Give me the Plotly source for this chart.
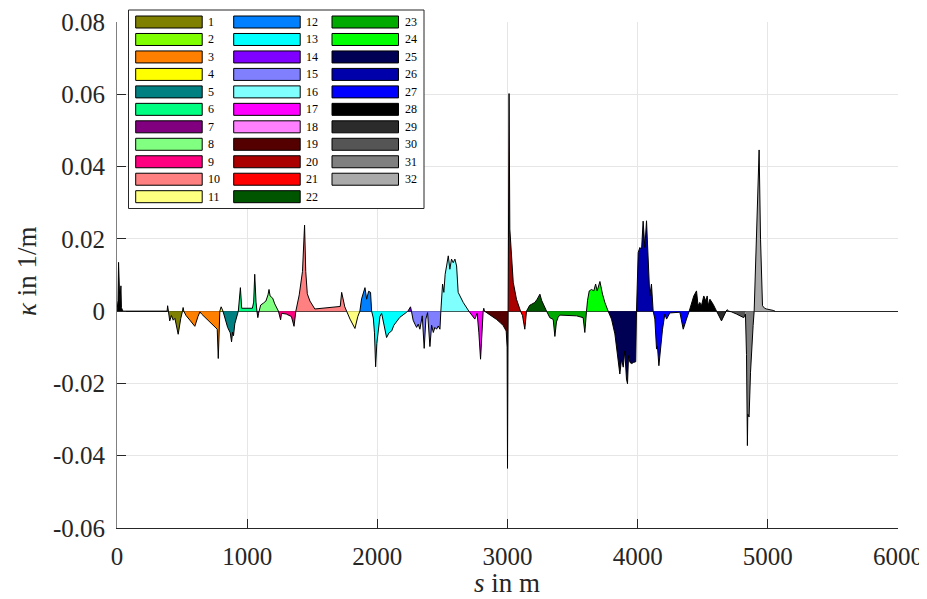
import plotly.graph_objects as go

# ---------------- data ----------------
s_m = [
    0, 8, 12, 16, 22, 30, 34, 45, 385,
    389, 395, 405, 418, 432, 445, 470, 490, 503,
    508, 513,
    530, 560, 598, 622, 637, 650, 700, 753, 770, 778, 790,
    800, 814,
    830, 850, 870, 880, 888, 895, 905, 918, 932,
    940, 948, 958, 1040, 1050, 1058, 1068, 1075,
    1082, 1088, 1092,
    1104, 1124, 1144, 1160, 1168, 1176, 1196, 1212, 1232, 1240,
    1250, 1257, 1264, 1300, 1340, 1360, 1374,
    1400, 1425, 1441, 1450, 1462, 1482, 1520, 1715, 1726, 1750, 1764,
    1790, 1828, 1850, 1866,
    1879, 1905, 1918, 1933, 1948, 1956,
    1969, 1978, 1987, 1996, 2007, 2020, 2033, 2045, 2071, 2090, 2110, 2127, 2143, 2173, 2225, 2235,
    2248, 2255, 2262,
    2275, 2289, 2302, 2314, 2327, 2345, 2360, 2373, 2386, 2404, 2417, 2430, 2442, 2455, 2468, 2481, 2488,
    2501, 2511, 2521, 2532, 2545, 2557, 2570, 2583, 2596, 2609, 2621, 2660, 2703,
    2720, 2732, 2749, 2760, 2767, 2780, 2793, 2813,
    2818, 2823,
    2840, 2865, 2890, 2916, 2945, 2967, 2990, 2997, 3000, 3005,
    3012, 3018, 3031, 3044, 3069, 3090, 3100,
    3115, 3133, 3146,
    3159, 3170, 3185, 3210, 3228, 3249, 3262, 3274, 3300,
    3325, 3351, 3364, 3376, 3389, 3402, 3530, 3581, 3594, 3607,
    3615, 3628, 3646, 3663, 3677, 3689, 3710, 3730, 3748, 3773,
    3799, 3825, 3850, 3863, 3876, 3889, 3901, 3914, 3922, 3930, 3941, 3955, 3967, 3985, 3991,
    3998, 4004, 4017, 4030, 4042, 4055, 4068, 4081, 4093, 4106, 4114, 4119,
    4132, 4145, 4152, 4163, 4176, 4191, 4209, 4222, 4234, 4247, 4324, 4350, 4375, 4396,
    4413, 4431, 4452, 4464, 4477, 4490, 4508, 4524, 4534, 4542, 4555, 4580, 4606,
    4623, 4644, 4669, 4680,
    4687, 4700, 4721, 4759, 4785, 4815, 4828,
    4836, 4843, 4846, 4856, 4867, 4887, 4895,
    4900, 4913, 4925, 4933, 4944, 4951, 4959, 4975, 4990, 5041, 5055,
]
kappa = [
    0, 0.003, 0.0135, 0.003, 0.002, 0.007, 0.001, 0, 0,
    0.0015, 0, -0.0027, -0.0012, -0.0025, -0.002, -0.0064, -0.002, 0,
    0.001, 0,
    -0.0012, -0.0025, -0.0042, -0.0015, -0.0002, -0.0008, -0.0025, -0.0044, -0.005, -0.0131, 0,
    0.0012, 0,
    -0.0022, -0.0045, -0.006, -0.0085, -0.0058, -0.0068, -0.0035, -0.002, 0,
    0.003, 0.0065, 0.0008, 0.0008, 0.0025, 0.0102, 0.0025, 0,
    -0.0018, -0.0006, 0,
    0.0017, 0.0022, 0.0028, 0.0045, 0.006, 0.0042, 0.0036, 0.002, 0.0005, 0,
    -0.0012, -0.0024, -0.0006, -0.0008, -0.0015, -0.0042, 0,
    0.0045, 0.011, 0.0238, 0.011, 0.0048, 0.0028, 0.0006, 0.0013, 0.0052, 0.0012, 0,
    -0.0022, -0.0048, -0.0015, 0,
    0.0034, 0.0065, 0.0033, 0.0055, 0.0052, 0,
    -0.0019, -0.006, -0.0154, -0.009, -0.005, -0.0015, -0.0006, -0.0025, -0.0073, -0.006, -0.0055, -0.0039, -0.003, -0.0017, -0.0003, 0,
    0.001, 0.0012, 0,
    -0.0025, -0.0036, -0.0045, -0.0036, -0.005, -0.0013, -0.0103, -0.0022, -0.0004, -0.0098, -0.0039, -0.0059, -0.0045, -0.005, -0.0041, -0.005, 0,
    0.0075, 0.0052, 0.0102, 0.0125, 0.0153, 0.0116, 0.0144, 0.0134, 0.0144, 0.0125, 0.0052, 0.0024, 0,
    -0.0008, -0.0015, -0.0022, -0.0012, -0.0006, -0.006, -0.0133, 0,
    0.0008, 0,
    -0.0004, -0.0009, -0.0015, -0.0023, -0.0032, -0.004, -0.0055, -0.01, -0.0435, 0,
    0.0602, 0.0227, 0.0134, 0.008, 0.0033, 0.0006, 0,
    -0.0012, -0.005, 0,
    0.001, 0.0016, 0.0019, 0.0024, 0.0033, 0.0047, 0.003, 0.0019, 0,
    -0.0018, -0.0023, -0.007, -0.003, -0.0017, -0.0011, -0.0013, -0.0018, -0.0059, 0,
    0.003, 0.0056, 0.006, 0.0056, 0.0075, 0.0056, 0.0082, 0.0047, 0.0024, 0,
    -0.0022, -0.0063, -0.0133, -0.0174, -0.0133, -0.0155, -0.011, -0.0188, -0.0201, -0.0123, -0.0142, -0.0145, -0.0142, -0.014, 0,
    0.012, 0.0162, 0.0176, 0.0171, 0.0249, 0.0176, 0.025, 0.0116, 0.0042, 0.0075, 0.0033, 0,
    -0.0022, -0.0105, -0.0097, -0.0151, -0.0097, -0.005, -0.0008, -0.0022, -0.0014, -0.0005, -0.0003, -0.005, -0.0022, 0,
    0.0024, 0.0042, 0.0056, 0.0015, 0.0024, 0.0015, 0.0042, 0.0028, 0.0042, 0.0015, 0.0033, 0.0019, 0,
    -0.0013, -0.0027, -0.0008, 0,
    0.0004, 0, -0.0002, -0.0008, -0.0013, -0.0018, -0.0008,
    -0.012, -0.0372, -0.0285, -0.0293, -0.0169, -0.004, 0,
    0.0061, 0.0199, 0.0364, 0.0446, 0.0199, 0.0088, 0.0015, 0.0008, 0.0006, 0.0002, 0,
]
# segment boundaries in s (first segment = unlabeled lead-in)
seg_edges = [0, 385, 503, 513, 790, 814, 932, 1075, 1092, 1240, 1374, 1764, 1866,
             1956, 2235, 2262, 2488, 2703, 2813, 2823, 3005, 3100, 3146, 3300, 3607,
             3773, 3991, 4119, 4396, 4606, 4680, 4828, 4895, 5055]
seg_labels = [''] + [str(i) for i in range(1, 33)]
seg_colors = ['#000000',
              '#808000', '#80ff00', '#ff8000', '#ffff00', '#008080', '#00ff80', '#800080',
              '#80ff80', '#ff0080', '#ff8080', '#ffff80', '#0080ff', '#00ffff', '#8000ff',
              '#8080ff', '#80ffff', '#ff00ff', '#ff80ff', '#550000', '#aa0000', '#ff0000',
              '#005500', '#00aa00', '#00ff00', '#000055', '#0000aa', '#0000ff', '#000000',
              '#2b2b2b', '#555555', '#808080', '#aaaaaa']
x_ticks = [0, 1000, 2000, 3000, 4000, 5000, 6000]
x_tick_labels = ['0', '1000', '2000', '3000', '4000', '5000', '6000']
y_ticks = [-0.06, -0.04, -0.02, 0, 0.02, 0.04, 0.06, 0.08]
y_tick_labels = ['-0.06', '-0.04', '-0.02', '0', '0.02', '0.04', '0.06', '0.08']

# ---------------- figure ----------------
OFF = 8  # page body margin: screen px = figure px + OFF
W, H = 927 - OFF, 599 - OFF
PL, PT, PR, PB = 117, 22, 898, 528          # plot area on screen
ML, MT = PL - OFF, PT - OFF
PW, PH = PR - PL, PB - PT
MR, MB = W - ML - PW, H - MT - PH
FONT = "'Liberation Serif', 'Times New Roman', Tinos, Times, 'DejaVu Serif', serif"
AX = '#262626'

fig = go.Figure()
for i in range(len(seg_edges) - 1):
    lo, hi = seg_edges[i], seg_edges[i + 1]
    xs = [s for s in s_m if lo <= s <= hi]
    ys = [k for s, k in zip(s_m, kappa) if lo <= s <= hi]
    fig.add_trace(go.Scatter(
        x=xs, y=ys, mode='lines', fill='tozeroy',
        fillcolor=seg_colors[i], line=dict(color='black', width=1),
        name=seg_labels[i] or 'start', showlegend=False, hoverinfo='skip'))


def px2x(px):   # screen px -> paper x
    return (px - PL) / PW


def py2y(py):   # screen px -> paper y
    return (PB - py) / PH


shapes = []
annotations = []
# legend frame
shapes.append(dict(type='rect', xref='paper', yref='paper',
                   x0=px2x(128.5), x1=px2x(424), y0=py2y(208.5), y1=py2y(10),
                   fillcolor='white', line=dict(color=AX, width=1), layer='above'))
col_x = [135.7, 233.7, 332.0]
sw_w, sw_h, row_pitch, top0 = 66.5, 12.0, 17.47, 16.0
for n in range(1, 33):
    c, r = (n - 1) // 11, (n - 1) % 11
    x0 = col_x[c]
    y0 = top0 + r * row_pitch
    shapes.append(dict(type='rect', xref='paper', yref='paper',
                       x0=px2x(x0), x1=px2x(x0 + sw_w), y0=py2y(y0 + sw_h), y1=py2y(y0),
                       fillcolor=seg_colors[n], line=dict(color='black', width=1), layer='above'))
    annotations.append(dict(xref='paper', yref='paper', x=px2x(x0 + sw_w + 4), y=py2y(y0 + sw_h / 2),
                            text=seg_labels[n], showarrow=False, xanchor='left', yanchor='middle',
                            font=dict(family=FONT, size=12, color='black')))

# axis titles
annotations.append(dict(xref='paper', yref='paper', x=px2x(507), y=py2y(583),
                        text='<i>s</i> in m', showarrow=False, xanchor='center', yanchor='middle',
                        font=dict(family=FONT, size=27, color=AX)))
annotations.append(dict(xref='paper', yref='paper', x=px2x(27), y=py2y(272),
                        text='<i>κ</i> in 1/m', showarrow=False, textangle=-90,
                        xanchor='center', yanchor='middle',
                        font=dict(family=FONT, size=27, color=AX)))

axis_common = dict(showline=True, linewidth=1, ticks='inside', ticklen=9,
                   tickcolor=AX, tickwidth=1, showgrid=True, gridcolor='#e6e6e6', gridwidth=1,
                   tickfont=dict(family=FONT, size=25, color=AX), mirror=False)

fig.update_layout(
    width=W, height=H, margin=dict(l=ML, r=MR, t=MT, b=MB, autoexpand=False),
    paper_bgcolor='white', plot_bgcolor='white', showlegend=False,
    font=dict(family=FONT, color=AX),
    xaxis=dict(range=[0, 6000], tickvals=x_ticks, ticktext=x_tick_labels, linecolor=AX,
               zeroline=False, ticklabelstandoff=6, **axis_common),
    yaxis=dict(range=[-0.06, 0.08], tickvals=y_ticks, ticktext=y_tick_labels, linecolor='#808080',
               zeroline=True, zerolinecolor=AX, zerolinewidth=1, ticklabelstandoff=6,
               **axis_common),
    shapes=shapes, annotations=annotations,
)

fig.write_html('out.html')
